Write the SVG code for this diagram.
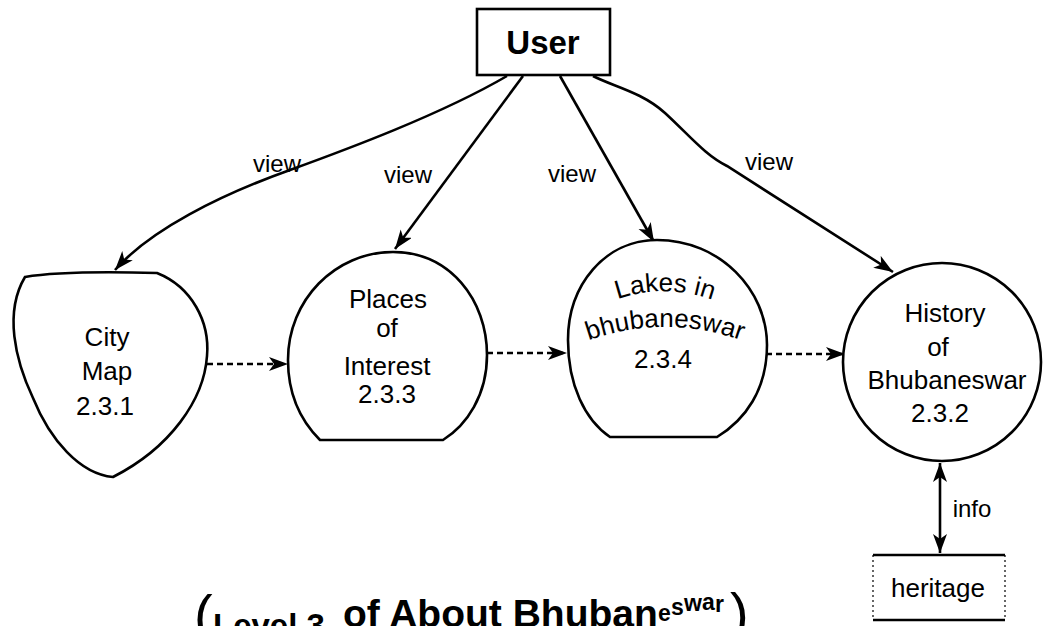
<svg xmlns="http://www.w3.org/2000/svg" width="1045" height="626" viewBox="0 0 1045 626">
<style>
  .bg{fill:#ffffff}
  .node{fill:#ffffff;stroke:#000;stroke-width:2.6}
  .t{font-family:"Liberation Sans",Arial,sans-serif;font-size:26px;fill:#000;text-anchor:middle}
  .lbl{font-family:"Liberation Sans",Arial,sans-serif;font-size:24px;fill:#000;text-anchor:middle}
  .flow{fill:none;stroke:#000;stroke-width:2.6}
  .dash{fill:none;stroke:#000;stroke-width:2.6;stroke-dasharray:6 4}
  .title{font-family:"Liberation Sans",Arial,sans-serif;font-weight:bold;fill:#000}
</style>
<defs>
  <marker id="ah" markerUnits="userSpaceOnUse" markerWidth="22" markerHeight="16" refX="19" refY="7" orient="auto-start-reverse">
    <path d="M0,0 L19,7 L0,14 L5,7 Z" fill="#000"/>
  </marker>
  <path id="arcLakes" d="M603,305 Q665,277 727,306"/>
  <path id="arcBhu" d="M584,342 Q665,312 746,342"/>
</defs>
<rect class="bg" x="0" y="0" width="1045" height="626"/>

<g id="connectors">
  <path class="flow" d="M507,76 C440,115 345,150 290,170 C220,195 150,230 115,270" marker-end="url(#ah)"/>
  <path class="flow" d="M523,76 L395,249" marker-end="url(#ah)"/>
  <path class="flow" d="M560,76 L654,242" marker-end="url(#ah)"/>
  <path class="flow" d="M593,76 C612,86 642,92 665,113 C690,136 705,155 727,166 L893,272" marker-end="url(#ah)"/>
  <path class="dash" d="M207,364 L288,364" marker-end="url(#ah)"/>
  <path class="dash" d="M487,353 L567,353" marker-end="url(#ah)"/>
  <path class="dash" d="M766,354 L845,354" marker-end="url(#ah)"/>
  <path class="flow" d="M940,463 L940,553" marker-start="url(#ah)" marker-end="url(#ah)"/>
  <text class="lbl" x="277" y="172">view</text>
  <text class="lbl" x="408" y="183">view</text>
  <text class="lbl" x="572" y="182">view</text>
  <text class="lbl" x="769" y="170">view</text>
  <text class="lbl" x="972" y="517">info</text>
</g>

<g id="user">
  <rect class="node" x="477" y="9" width="133" height="66"/>
  <text class="title" x="543" y="54" font-size="33" text-anchor="middle">User</text>
</g>

<g id="citymap">
  <path class="node" d="M25,277 C60,271 120,272 157,273 C192,287 210,322 207,356 C204,400 170,448 113,477 C80,474 50,440 33,398 C15,360 4,312 25,277 Z"/>
  <text class="t" x="107" y="346">City</text>
  <text class="t" x="107" y="380">Map</text>
  <text class="t" x="105" y="415">2.3.1</text>
</g>

<g id="places">
  <path class="node" d="M393,252 C450,252 487,300 487,355 C487,395 467,425 443,440 L320,440 C300,420 288,395 288,360 C288,300 335,252 393,252 Z"/>
  <text class="t" x="388" y="308">Places</text>
  <text class="t" x="387" y="337">of</text>
  <text class="t" x="387" y="375">Interest</text>
  <text class="t" x="387" y="403">2.3.3</text>
</g>

<g id="lakes">
  <path class="node" d="M657,240 C720,240 767,290 767,345 C767,390 745,420 717,437 L610,437 C585,420 568,385 568,340 C568,285 605,240 657,240 Z"/>
  <text class="t"><textPath href="#arcLakes" startOffset="50%">Lakes in</textPath></text>
  <text class="t"><textPath href="#arcBhu" startOffset="50%">bhubaneswar</textPath></text>
  <text class="t" x="663" y="368">2.3.4</text>
</g>

<g id="history">
  <ellipse class="node" cx="942" cy="362" rx="99" ry="99"/>
  <text class="t" x="945" y="322">History</text>
  <text class="t" x="938" y="356">of</text>
  <text class="t" x="947" y="389">Bhubaneswar</text>
  <text class="t" x="940" y="422">2.3.2</text>
</g>

<g id="heritage">
  <rect x="873" y="555" width="132" height="65" fill="#fff" stroke="none"/>
  <line x1="873" y1="555" x2="1005" y2="555" stroke="#000" stroke-width="2.4"/>
  <line x1="873" y1="620" x2="1005" y2="620" stroke="#000" stroke-width="2.4"/>
  <line x1="873" y1="555" x2="873" y2="620" stroke="#000" stroke-width="1.2" stroke-dasharray="2 3"/>
  <line x1="1005" y1="555" x2="1005" y2="620" stroke="#000" stroke-width="1.2" stroke-dasharray="2 3"/>
  <text class="t" x="938" y="597" font-size="24">heritage</text>
</g>

<g id="caption">
  <text x="194" y="634" font-family="Liberation Sans,Arial,sans-serif" font-size="56" fill="#000">(</text>
  <text class="title" x="213" y="637" font-size="33">Level 3</text>
  <text class="title" x="343" y="627" font-size="39">of About Bhuban</text>
  <text class="title" font-size="23"><tspan x="658 671 684 702 715" y="621 615 611 610 612">eswar</tspan></text>
  <text x="730" y="632" font-family="Liberation Sans,Arial,sans-serif" font-size="56" fill="#000">)</text>
</g>
</svg>
